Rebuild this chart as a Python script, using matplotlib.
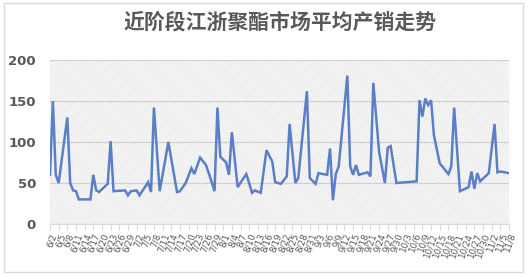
import matplotlib
matplotlib.use("Agg")
import matplotlib.pyplot as plt
import pandas as pd
from matplotlib.patches import Rectangle

plt.rcParams['font.family'] = ['Noto Sans CJK SC', 'DejaVu Sans']
plt.rcParams['hatch.linewidth'] = 0.5

title = "近阶段江浙聚酯市场平均产销走势"
year = 2023

dates = ["6/2", "6/3", "6/4", "6/5", "6/8", "6/9", "6/10", "6/11", "6/12", "6/16",
         "6/17", "6/18", "6/19", "6/22", "6/23", "6/24", "6/28", "6/29", "6/30", "7/2",
         "7/3", "7/6", "7/7", "7/8", "7/10", "7/13", "7/16", "7/17", "7/19", "7/21",
         "7/22", "7/24", "7/26", "7/27", "7/29", "7/30", "7/31", "8/2", "8/3", "8/4",
         "8/6", "8/9", "8/11", "8/12", "8/14", "8/16", "8/18", "8/19", "8/21", "8/23",
         "8/24", "8/26", "8/27", "8/30", "8/31", "9/2", "9/3", "9/6", "9/7", "9/8",
         "9/9", "9/10", "9/13", "9/14", "9/15", "9/16", "9/17", "9/20", "9/21", "9/22",
         "9/24", "9/26", "9/27", "9/28", "9/30", "10/7", "10/8", "10/9", "10/10", "10/11",
         "10/12", "10/13", "10/15", "10/18", "10/19", "10/20", "10/22", "10/25", "10/26", "10/27",
         "10/28", "10/29", "11/1", "11/3", "11/4", "11/5", "11/8"]
values = [60, 150, 60, 50, 130, 50, 41, 40, 30, 30,
          60, 41, 39, 49, 101, 40, 41, 35, 40, 41,
          35, 51, 39, 142, 40, 100, 39, 40, 50, 68,
          61, 81, 72, 62, 40, 142, 82, 75, 60, 112,
          45, 61, 38, 41, 38, 90, 76, 51, 49, 58,
          122, 50, 56, 162, 56, 49, 62, 60, 92, 29,
          61, 70, 181, 70, 60, 72, 60, 63, 58, 172,
          88, 50, 93, 95, 50, 52, 151, 131, 153, 145,
          151, 108, 74, 61, 70, 142, 40, 45, 64, 43,
          62, 52, 62, 122, 63, 64, 62]
yticks = [0, 50, 100, 150, 200]

x = pd.to_datetime([f"{year}/{d}" for d in dates], format="%Y/%m/%d")
tick_dates = pd.date_range(x[0], x[-1], freq="3D")
tick_labels = [f"{d.month}/{d.day}" for d in tick_dates]

fig = plt.figure(figsize=(5.28, 2.79), dpi=100)
fig.patch.set_facecolor("white")
# outer chart border
fig.add_artist(Rectangle((4 / 528, 1 - 272 / 279), 519 / 528, 269 / 279,
                         transform=fig.transFigure, fill=False,
                         edgecolor="#d9d9d9", linewidth=1.0))

ax = fig.add_axes([50 / 528, 1 - 224 / 279, 459 / 528, 164 / 279])
ax.patch.set_facecolor("white")
ax.add_patch(Rectangle((0, 0), 1, 1, transform=ax.transAxes, facecolor="white",
                       edgecolor="#dadada", hatch="\\" * 12, linewidth=0, zorder=0))

ax.plot(x, values, color="#5b7fc7", linewidth=1.8, solid_joinstyle="miter", zorder=3)

ax.set_ylim(0, 200)
ax.set_yticks(yticks)
ax.set_yticklabels([str(t) for t in yticks], fontsize=9.5, fontweight="bold",
                   color="#595959", family="DejaVu Sans")
ax.set_xlim(x[0], x[-1])
ax.set_xticks(tick_dates)
ax.set_xticklabels(tick_labels, rotation=70, fontsize=6.3, color="#595959",
                   ha="right", rotation_mode="anchor", family="DejaVu Sans")
ax.tick_params(axis="y", length=0, pad=10)
ax.tick_params(axis="x", length=4, color="#d9d9d9", pad=2)
ax.grid(axis="y", color="#d0d0d0", linewidth=0.9, zorder=1)
ax.set_axisbelow(True)
for s in ["top", "right", "left"]:
    ax.spines[s].set_visible(False)
ax.spines["bottom"].set_color("#d9d9d9")

fig.text(280 / 528, 1 - 22 / 279, title, ha="center", va="center",
         fontsize=15, color="#595959", fontweight="bold")

fig.savefig("out.png", dpi=100)
